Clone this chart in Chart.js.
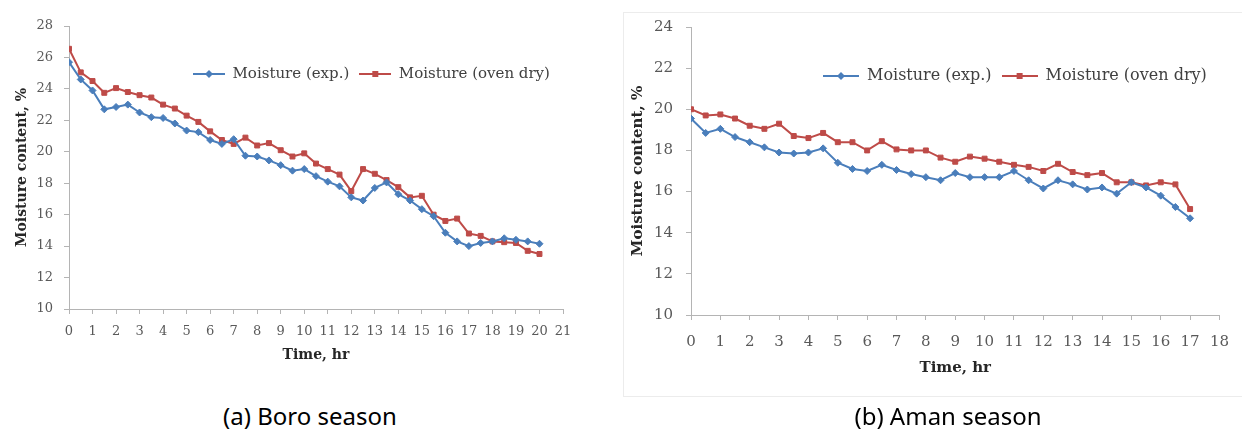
<!DOCTYPE html>
<html>
<head>
<meta charset="utf-8">
<title>Moisture content vs drying time</title>
<script src="https://cdn.jsdelivr.net/npm/chart.js@4.4.0/dist/chart.umd.min.js"></script>
<style>
  body { margin: 0; background: #fff; width: 1242px; height: 430px; position: relative; overflow: hidden; }
  canvas { position: absolute; top: 0; }
  #boro { left: 0; }
  #aman { left: 620px; }
  #amanFrame { position: absolute; left: 623px; top: 12px; width: 640px; height: 383px; border: 1px solid #ececec; }
  .caption { position: absolute; top: 403px; width: 400px; text-align: center; font-family: "Noto Sans", sans-serif; font-size: 24px; line-height: 26px; color: #000; }
</style>
</head>
<body>
<div id="amanFrame"></div>
<canvas id="boro" width="600" height="385"></canvas>
<canvas id="aman" width="622" height="400"></canvas>
<div class="caption" style="left:110px">(a) Boro season</div>
<div class="caption" style="left:748px">(b) Aman season</div>

<script>
// (a) Boro season - readings every half hour
var timeBoro = [0, 0.5, 1, 1.5, 2, 2.5, 3, 3.5, 4, 4.5, 5, 5.5, 6, 6.5, 7, 7.5, 8, 8.5, 9, 9.5,
                10, 10.5, 11, 11.5, 12, 12.5, 13, 13.5, 14, 14.5, 15, 15.5, 16, 16.5, 17, 17.5, 18, 18.5, 19, 19.5, 20];
var expBoro  = [25.7, 24.6, 23.9, 22.7, 22.85, 23.0, 22.5, 22.2, 22.15, 21.8, 21.35, 21.25, 20.75, 20.5, 20.8, 19.75, 19.7, 19.45, 19.15, 18.8,
                18.9, 18.45, 18.1, 17.8, 17.1, 16.9, 17.7, 18.05, 17.3, 16.9, 16.35, 15.9, 14.85, 14.3, 14.0, 14.2, 14.3, 14.5, 14.4, 14.3, 14.15];
var ovenBoro = [26.55, 25.05, 24.5, 23.75, 24.05, 23.8, 23.6, 23.45, 23.0, 22.75, 22.3, 21.9, 21.3, 20.75, 20.5, 20.9, 20.4, 20.55, 20.1, 19.7,
                19.9, 19.25, 18.9, 18.55, 17.5, 18.9, 18.6, 18.2, 17.75, 17.1, 17.2, 16.0, 15.6, 15.75, 14.8, 14.65, 14.3, 14.25, 14.2, 13.7, 13.5];

// (b) Aman season
var timeAman = [0, 0.5, 1, 1.5, 2, 2.5, 3, 3.5, 4, 4.5, 5, 5.5, 6, 6.5, 7, 7.5, 8, 8.5, 9, 9.5,
                10, 10.5, 11, 11.5, 12, 12.5, 13, 13.5, 14, 14.5, 15, 15.5, 16, 16.5, 17];
var expAman  = [19.55, 18.85, 19.05, 18.65, 18.4, 18.15, 17.9, 17.85, 17.9, 18.1, 17.4, 17.1, 17.0, 17.3, 17.05, 16.85, 16.7, 16.55, 16.9, 16.7,
                16.7, 16.7, 17.0, 16.55, 16.15, 16.55, 16.35, 16.1, 16.2, 15.9, 16.45, 16.2, 15.8, 15.25, 14.7];
var ovenAman = [20.0, 19.7, 19.75, 19.55, 19.2, 19.05, 19.3, 18.7, 18.6, 18.85, 18.4, 18.4, 18.0, 18.45, 18.05, 18.0, 18.0, 17.65, 17.45, 17.7,
                17.6, 17.45, 17.3, 17.2, 17.0, 17.35, 16.95, 16.8, 16.9, 16.45, 16.45, 16.3, 16.45, 16.35, 15.15];

var seriesNames = ['Moisture (exp.)', 'Moisture (oven dry)'];
var boroAxis = { xMax: 21, yMin: 10, yMax: 28, yStep: 2 };
var amanAxis = { xMax: 18, yMin: 10, yMax: 24, yStep: 2 };

var BLUE = '#4a7ebb';
var RED = '#be4b48';
var SERIF = '"DejaVu Serif", serif';

function pts(xs, ys) {
    return xs.map(function (x, i) { return { x: x, y: ys[i] }; });
}

// little line + marker picture for the legend, like the Excel one
function legendIcon(color, shape, w) {
    var c = document.createElement('canvas');
    c.width = w; c.height = 12;
    var g = c.getContext('2d');
    g.strokeStyle = color; g.lineWidth = 2;
    g.beginPath(); g.moveTo(0, 6); g.lineTo(w, 6); g.stroke();
    g.fillStyle = color;
    g.beginPath();
    if (shape === 'diamond') {
        g.moveTo(w / 2, 2); g.lineTo(w / 2 + 4, 6); g.lineTo(w / 2, 10); g.lineTo(w / 2 - 4, 6);
    } else {
        g.rect(w / 2 - 3, 3, 6, 6);
    }
    g.closePath(); g.fill();
    return c;
}

// put the legend inside the plot area instead of above it
var moveLegend = {
    id: 'moveLegend',
    beforeDraw: function (chart, args, opts) {
        var lg = chart.legend;
        var w = lg.width, h = lg.height;
        lg.left = opts.x - opts.pad;
        lg.right = lg.left + w;
        lg.top = opts.y - opts.pad - opts.font / 2;
        lg.bottom = lg.top + h;
    }
};

function buildChart(id, axis, time, exp, oven, g) {
    var icons = [legendIcon(BLUE, 'diamond', g.iconW), legendIcon(RED, 'square', g.iconW)];
    var tickFont = { family: SERIF, size: g.tickFont };
    var titleFont = { family: SERIF, size: g.titleFont, weight: 'bold' };

    var chart = new Chart(document.getElementById(id), {
        type: 'line',
        data: {
            datasets: [{
                label: seriesNames[0],
                data: pts(time, exp),
                borderColor: BLUE, backgroundColor: BLUE,
                borderWidth: 2, pointStyle: 'rectRot', pointRadius: 3.5, pointBorderWidth: 1
            }, {
                label: seriesNames[1],
                data: pts(time, oven),
                borderColor: RED, backgroundColor: RED,
                borderWidth: 2, pointStyle: 'rect', pointRadius: 3.5, pointBorderWidth: 1
            }]
        },
        options: {
            responsive: false,
            animation: false,
            layout: { padding: { left: g.padLeft, right: g.padRight, top: 0, bottom: g.padBottom } },
            plugins: {
                tooltip: { enabled: false },
                legend: {
                    position: 'top',
                    align: 'start',
                    labels: {
                        usePointStyle: true,
                        pointStyleWidth: g.iconW,
                        padding: 10,
                        color: '#404040',
                        font: { family: SERIF, size: g.legFont },
                        generateLabels: function (ch) {
                            var items = Chart.defaults.plugins.legend.labels.generateLabels(ch);
                            items.forEach(function (it, i) { it.pointStyle = icons[i]; });
                            return items;
                        }
                    }
                },
                moveLegend: { x: g.legX, y: g.legY, pad: 10, font: g.legFont }
            },
            scales: {
                x: {
                    type: 'linear',
                    min: 0,
                    max: axis.xMax,
                    afterFit: function (s) { s.height = g.xH; },
                    ticks: { stepSize: 1, autoSkip: false, maxRotation: 0, padding: g.xTickPad, color: '#595959', font: tickFont },
                    grid: { drawOnChartArea: false, drawTicks: true, tickLength: 5, color: '#b4b4b4' },
                    border: { color: '#b4b4b4', width: 1 },
                    title: { display: true, text: 'Time, hr', color: '#262626', font: titleFont, padding: 0 }
                },
                y: {
                    min: axis.yMin,
                    max: axis.yMax,
                    afterFit: function (s) { s.width = g.yW; },
                    ticks: { stepSize: axis.yStep, padding: g.yTickPad, color: '#595959', font: tickFont },
                    grid: { drawOnChartArea: false, drawTicks: true, tickLength: 5, color: '#b4b4b4' },
                    border: { color: '#b4b4b4', width: 1 },
                    title: { display: true, text: 'Moisture content, %', color: '#262626', font: titleFont, padding: 0 }
                }
            }
        },
        plugins: [moveLegend]
    });

    chart.options.layout.padding.top = g.plotTop - chart.legend.height;
    chart.update();
    return chart;
}

buildChart('boro', boroAxis, timeBoro, expBoro, ovenBoro, {
    padLeft: 14, padRight: 37, padBottom: 21, plotTop: 26,
    yW: 55, xH: 55, xTickPad: 10, yTickPad: 11,
    tickFont: 13, titleFont: 14, legFont: 15, iconW: 32,
    legX: 193, legY: 74
});

buildChart('aman', amanAxis, timeAman, expAman, ovenAman, {
    padLeft: 9, padRight: 12, padBottom: 23, plotTop: 27,
    yW: 62, xH: 62, xTickPad: 13, yTickPad: 13,
    tickFont: 15, titleFont: 15, legFont: 16, iconW: 36,
    legX: 203, legY: 76
});
</script>
</body>
</html>
